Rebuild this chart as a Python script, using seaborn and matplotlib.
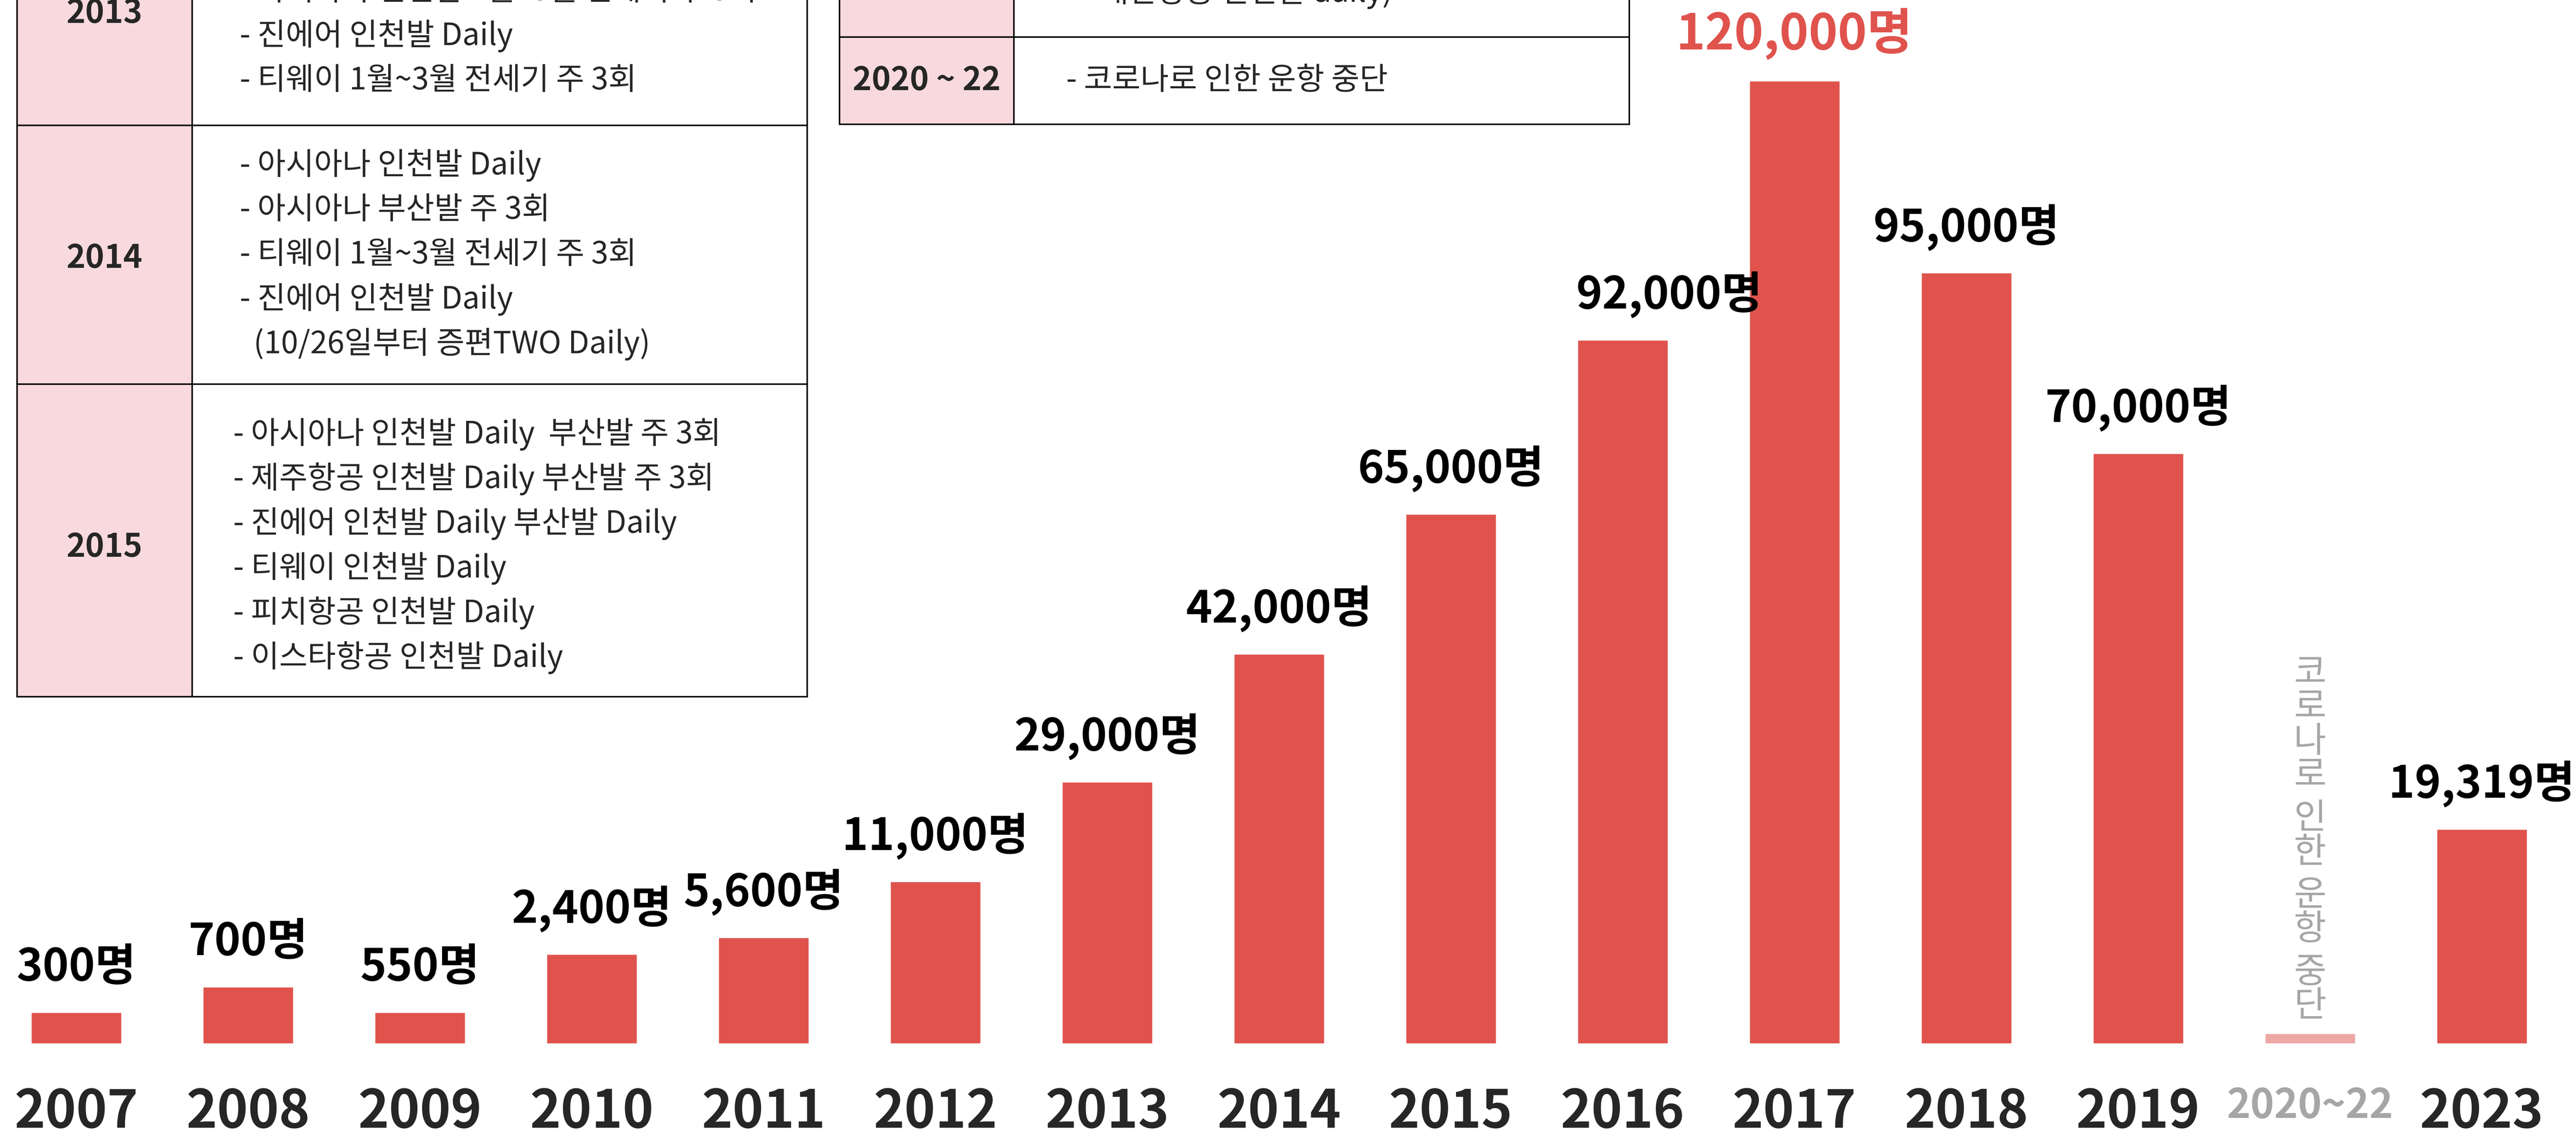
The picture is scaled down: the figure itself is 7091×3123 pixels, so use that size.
import matplotlib
matplotlib.use("Agg")
import matplotlib.pyplot as plt
import pandas as pd
import seaborn as sns
from matplotlib.patches import Rectangle

# ---- data ----
years = ["2007", "2008", "2009", "2010", "2011", "2012", "2013", "2014",
         "2015", "2016", "2017", "2018", "2019", "2020~22", "2023"]
passengers = [300, 700, 550, 2400, 5600, 11000, 29000, 42000,
              65000, 92000, 120000, 95000, 70000, None, 19319]
# bar lengths as drawn in the original (not proportional to the counts)
bar_heights = [85, 155, 85, 245, 291, 445, 719, 1071,
               1456, 1935, 2648, 2120, 1623, 27, 589]

suspended_text = "코로나로 인한 운항 중단"

left_table_years = ["2013", "2014", "2015"]
left_table_lines = [
    ["- 아시아나 인천발 1월~3월 전세기 주 3회",
     "- 진에어 인천발 Daily",
     "- 티웨이 1월~3월 전세기 주 3회"],
    ["- 아시아나 인천발 Daily",
     "- 아시아나 부산발 주 3회",
     "- 티웨이 1월~3월 전세기 주 3회",
     "- 진에어 인천발 Daily",
     "  (10/26일부터 증편TWO Daily)"],
    ["- 아시아나 인천발 Daily  부산발 주 3회",
     "- 제주항공 인천발 Daily 부산발 주 3회",
     "- 진에어 인천발 Daily 부산발 Daily",
     "- 티웨이 인천발 Daily",
     "- 피치항공 인천발 Daily",
     "- 이스타항공 인천발 Daily"],
]
right_table_years = ["", "2020 ~ 22"]
right_table_lines = [
    ["대한항공 인천발 daily)"],
    ["- 코로나로 인한 운항 중단"],
]

# ---- style ----
RED = "#E0534D"
RED_LIGHT = "#EDA8A6"
PINK = "#F8D9DE"
GRAY = "#A6A6A6"
W, H, DPI = 7091, 3123, 100
BASE = 252  # px from bottom to the bar baseline

sns.set_style("white")
plt.rcParams["font.family"] = ["Noto Sans CJK KR", "DejaVu Sans"]

fig = plt.figure(figsize=(W / DPI, H / DPI), dpi=DPI)

# table overlay in pixel coordinates
tab = fig.add_axes([0, 0, 1, 1])
tab.set_xlim(0, W)
tab.set_ylim(H, 0)
tab.axis("off")


def draw_table(x0, x1, x2, rows, labels, lines, text_x, starts, step):
    for (top, bot), lab, txt, tx, y0 in zip(rows, labels, lines, text_x, starts):
        tab.add_patch(Rectangle((x0, top), x1 - x0, bot - top, facecolor=PINK,
                                edgecolor="black", lw=3))
        tab.add_patch(Rectangle((x1, top), x2 - x1, bot - top, facecolor="white",
                                edgecolor="black", lw=3))
        tab.text((x0 + x1) / 2, lab[1], lab[0], ha="center", va="center",
                 fontsize=64, fontweight="bold")
        for k, line in enumerate(txt):
            tab.text(tx, y0 + k * step, line, ha="left", va="center", fontsize=61)


draw_table(47, 529, 2222,
           [(-270, 345), (345, 1057), (1057, 1917)],
           [(left_table_years[0], 37), (left_table_years[1], 711), (left_table_years[2], 1506)],
           left_table_lines, [660, 660, 642], [-24, 455, 1195], 123)
draw_table(2311, 2791, 4485,
           [(-300, 102), (102, 342)],
           [(right_table_years[0], -100), (right_table_years[1], 222)],
           right_table_lines, [3029, 2935], [-20, 222], 123)

# bar chart
ax = fig.add_axes([0, BASE / H, 1, 1 - BASE / H])
ax.patch.set_alpha(0)
df = pd.DataFrame({"year": years, "height": bar_heights})
colors = [RED_LIGHT if y == "2020~22" else RED for y in years]
sns.barplot(data=df, x="year", y="height", hue="year", palette=colors,
            legend=False, width=0.525, saturation=1, ax=ax)
ax.set_xlim(-0.444, 14.548)
ax.set_ylim(0, H - BASE)
sns.despine(ax=ax, left=True, bottom=True)
ax.set_yticks([])
ax.set_xlabel("")
ax.set_ylabel("")
ax.tick_params(axis="x", length=0, pad=84)
for lab in ax.get_xticklabels():
    lab.set_fontweight("heavy")
    if lab.get_text() == "2020~22":
        lab.set_fontsize(80)
        lab.set_color(GRAY)
    else:
        lab.set_fontsize(104)

# the 2016 label sits a little right of its bar in the original
label_shift = {"2016": 0.27}
top_value = max(p for p in passengers if p is not None)
for i, (yr, v, h) in enumerate(zip(years, passengers, bar_heights)):
    if v is None:
        continue
    top = v == top_value
    ax.text(i + label_shift.get(yr, 0), h + 88, f"{v:,}명", ha="center",
            va="baseline", fontsize=98 if top else 88, fontweight="bold",
            color=RED if top else "black")

# stacked vertical note above the suspended bar
idx = years.index("2020~22")
y = H - BASE - 1852
for ch in suspended_text:
    if ch == " ":
        y -= 24
        continue
    ax.text(idx, y, ch, ha="center", va="center", fontsize=70, color=GRAY)
    y -= 94

fig.savefig("out.png", dpi=DPI)
